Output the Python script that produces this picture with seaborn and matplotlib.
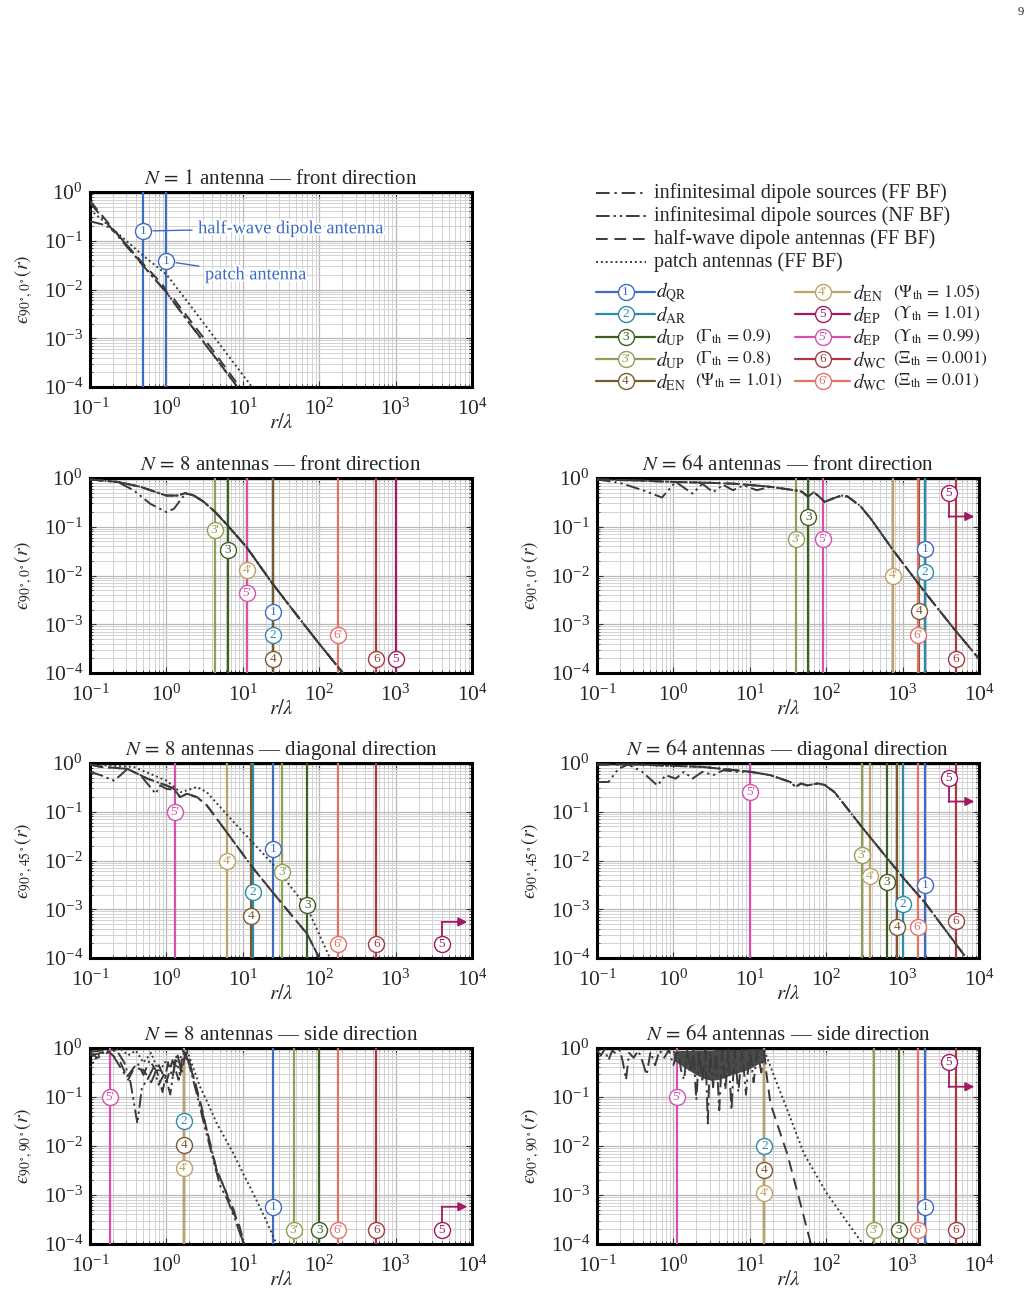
import numpy as np
import matplotlib
matplotlib.use("Agg")
import matplotlib.pyplot as plt
import matplotlib.patheffects as pe
from matplotlib.ticker import LogLocator, NullFormatter
import seaborn as sns

# ---- threshold markers (same order in every panel) ----
thr_keys = ["1", "2", "3", "3'", "4", "4'", "5", "5'", "6", "6'"]
thr_colors = ["#3d6cc4", "#2a8bab", "#3f5f22", "#8fa055", "#7b5b2e",
              "#c0a064", "#a01b63", "#d650ae", "#a83a40", "#e0736a"]
thr_names = [r"$d_{\mathrm{QR}}$", r"$d_{\mathrm{AR}}$", r"$d_{\mathrm{UP}}$", r"$d_{\mathrm{UP}}$",
             r"$d_{\mathrm{EN}}$", r"$d_{\mathrm{EN}}$", r"$d_{\mathrm{EP}}$", r"$d_{\mathrm{EP}}$",
             r"$d_{\mathrm{WC}}$", r"$d_{\mathrm{WC}}$"]
thr_params = ["", "", r"$(\Gamma_{\mathrm{th}}\,=\,0.9)$", r"$(\Gamma_{\mathrm{th}}\,=\,0.8)$",
              r"$(\Psi_{\mathrm{th}}\,=\,1.01)$", r"$(\Psi_{\mathrm{th}}\,=\,1.05)$",
              r"$(\Upsilon_{\mathrm{th}}\,=\,1.01)$", r"$(\Upsilon_{\mathrm{th}}\,=\,0.99)$",
              r"$(\Xi_{\mathrm{th}}\,=\,0.001)$", r"$(\Xi_{\mathrm{th}}\,=\,0.01)$"]

# distances r/lambda of each threshold (None = beyond 1e4, drawn as arrow)
n8f_dist = [24.6, 24.6, 6.4, 4.35, 24.6, 11.3, 1000, 11.3, 560, 177]
n64f_dist = [1960, 1960, 58, 40, 1620, 760, None, 90, 5000, 1580]
n8d_dist = [24.6, 13.4, 70, 33, 12.7, 6.2, None, 1.29, 560, 177]
n64d_dist = [1960, 1000, 620, 295, 850, 380, None, 10.2, 5000, 1580]
n8s_dist = [24.6, 1.68, 100, 47, 1.68, 1.68, None, 0.18, 560, 177]
n64s_dist = [1960, 15.5, 900, 420, 15.5, 15.5, None, 1.1, 5000, 1580]

# log10 height of the circled labels
n8f_lab = [-2.75, -3.23, -1.47, -1.075, -3.71, -1.88, -3.71, -2.36, -3.71, -3.23]
n64f_lab = [-1.45, -1.93, -0.79, -1.25, -2.72, -2.0, -0.30, -1.25, -3.71, -3.23]
n8d_lab = [-1.76, -2.64, -2.92, -2.24, -3.13, -2.01, -3.71, -1.0, -3.71, -3.71]
n64d_lab = [-2.5, -2.9, -2.45, -1.88, -3.37, -2.32, -0.30, -0.6, -3.25, -3.37]
n8s_lab = [-3.24, -1.49, -3.72, -3.72, -1.97, -2.44, -3.72, -1.0, -3.72, -3.72]
n64s_lab = [-3.24, -2.0, -3.72, -3.72, -2.49, -2.96, -0.29, -1.0, -3.72, -3.72]

# arrow for d_EP beyond the plotted range: label x, arrow end x, corner (log10 y)
arrow5_x = 4000
arrow5_end = 8700
n64_arrow_corner = -0.79
n8d_arrow_corner = -3.26
n8s_arrow_corner = -3.24

# N = 1 panel
n1_dist = [0.5, 1.0]
n1_lab = [-0.8, -1.42]
n1_notes = ["half-wave dipole antenna", "patch antenna"]
n1_note_x = [2.6, 3.2]
n1_note_y = [0.18, 0.02]

n1_ff_lx = [-1, -0.65, -0.3, 0, 0.4, 0.93]
n1_ff_ly = [-0.22, -0.88, -1.52, -2.06, -2.9, -4.0]
n1_nf_lx = [-1, -0.8, -0.65, -0.5, -0.3, 0, 0.93]
n1_nf_ly = [-0.6, -0.68, -0.85, -1.12, -1.52, -2.06, -4.0]
n1_hw_lx = [-1, -0.65, -0.3, -0.05, 0.02, 0.1, 0.5, 0.96]
n1_hw_ly = [-0.18, -0.85, -1.48, -1.9, -2.1, -2.2, -3.02, -4.0]
n1_pa_lx = [-1, -0.65, -0.3, 0, 0.3, 0.7, 1.12]
n1_pa_ly = [-0.36, -0.83, -1.31, -1.69, -2.3, -3.13, -4.0]

n8f_ff_lx = [-1, -0.64, -0.34, -0.08, 0.0, 0.14, 0.25, 0.36, 0.49, 0.64, 0.8, 1.05, 1.39, 1.75, 2.0, 2.31]
n8f_ff_ly = [-0.03, -0.08, -0.18, -0.32, -0.36, -0.36, -0.31, -0.36, -0.49, -0.7, -0.97, -1.42, -2.17, -2.9, -3.4, -4.0]
n8f_nf_lx = [-1, -0.64, -0.43, -0.21, 0.0, 0.1, 0.18, 0.25, 0.36, 0.49, 0.64, 0.8, 1.05, 1.39, 1.75, 2.0, 2.31]
n8f_nf_ly = [-0.03, -0.08, -0.25, -0.53, -0.7, -0.63, -0.46, -0.32, -0.36, -0.49, -0.7, -0.97, -1.42, -2.17, -2.9, -3.4, -4.0]

n64f_ff_lx = [-1, -0.5, 0, 0.5, 0.83, 1.27, 1.58, 1.68, 1.76, 1.84, 1.92, 1.98, 2.09, 2.2, 2.28,
              2.45, 2.6, 2.88, 3.29, 3.65, 4.0]
n64f_ff_ly = [-0.03, -0.05, -0.08, -0.1, -0.12, -0.18, -0.25, -0.28, -0.38, -0.29, -0.4, -0.49, -0.42,
              -0.36, -0.38, -0.58, -0.87, -1.49, -2.34, -3.05, -3.71]
n64f_nf_lx = [-1, -0.7, -0.4, -0.15, 0.03, 0.25, 0.38, 0.52, 0.65, 0.78, 0.92, 1.09, 1.27]
n64f_nf_ly = [-0.03, -0.1, -0.25, -0.4, -0.08, -0.32, -0.12, -0.29, -0.14, -0.25, -0.15, -0.25, -0.18]

n8d_ff_lx = [-1, -0.86, -0.51, -0.25, 0.0, 0.1, 0.18, 0.27, 0.4, 0.53, 0.79, 1.126, 1.39, 1.6, 1.84, 2.0]
n8d_ff_ly = [-0.03, -0.08, -0.12, -0.32, -0.46, -0.53, -0.7, -0.63, -0.7, -0.87, -1.42, -2.14, -2.65,
             -3.05, -3.5, -4.0]
n8d_nf_lx = [-1, -0.86, -0.69, -0.6, -0.51, -0.34, -0.14, -0.08, 0.0, 0.1, 0.18, 0.27]
n8d_nf_ly = [-0.18, -0.25, -0.36, -0.25, -0.12, -0.25, -0.63, -0.46, -0.53, -0.55, -0.7, -0.63]
n8d_pa_lx = [-1, -0.43, 0.0, 0.18, 0.27, 0.4, 0.53, 0.88, 1.39, 1.84, 2.14]
n8d_pa_ly = [-0.03, -0.08, -0.36, -0.6, -0.56, -0.49, -0.6, -1.21, -2.07, -2.96, -4.0]

n64d_ff_lx = [-1, -0.5, 0.38, 1.01, 1.27, 1.53, 1.6, 1.67, 1.75, 1.89, 1.98, 2.11, 2.28, 2.47, 3.0,
              3.29, 3.81]
n64d_ff_ly = [-0.03, -0.03, -0.08, -0.18, -0.25, -0.39, -0.49, -0.42, -0.46, -0.42, -0.45, -0.6, -0.94,
              -1.32, -2.34, -2.86, -3.95]
n64d_nf_lx = [-1, -0.85, -0.72, -0.59, -0.41, -0.21, -0.1, 0.03, 0.14, 0.25, 0.38, 0.52, 0.65, 0.83, 1.01]
n64d_nf_ly = [-0.39, -0.39, -0.12, -0.03, -0.18, -0.46, -0.25, -0.32, -0.18, -0.32, -0.18, -0.25, -0.15,
              -0.18, -0.18]

n8s_ff_lx = [-1.0, -0.85, -0.72, -0.62, -0.52, -0.45, -0.38, -0.3, -0.22, -0.12, -0.05, 0.02, 0.08,
             0.14, 0.2, 0.26, 0.33, 0.44, 0.55, 0.66, 0.77, 0.88, 1.01]
n8s_ff_ly = [-0.08, -0.05, -0.1, -0.35, -0.6, -0.45, -0.3, -0.55, -0.25, -0.5, -0.9, -0.3, -0.6,
             -0.1, -0.5, -0.03, -0.45, -1.13, -1.8, -2.5, -2.9, -3.3, -4.0]
n8s_nf_lx = [-1.0, -0.8, -0.65, -0.55, -0.47, -0.38, -0.32, -0.25, -0.17, -0.1, -0.02, 0.05, 0.12,
             0.18, 0.24, 0.3, 0.4, 0.5, 0.6, 0.7, 0.8, 0.9, 1.0]
n8s_nf_ly = [-0.15, -0.08, -0.05, -0.3, -0.7, -1.54, -0.8, -0.65, -0.4, -0.75, -0.5, -0.95, -0.2,
             -0.55, -0.05, -0.35, -0.95, -1.6, -2.2, -2.8, -3.1, -3.5, -3.95]
n8s_hw_lx = [-1.0, -0.9, -0.75, -0.6, -0.5, -0.42, -0.3, -0.2, -0.1, 0.0, 0.08, 0.16, 0.22, 0.28,
             0.36, 0.46, 0.56, 0.66, 0.76, 0.86, 0.95, 1.02]
n8s_hw_ly = [-0.1, -0.2, -0.08, -0.3, -0.65, -0.4, -0.45, -0.7, -0.35, -0.7, -0.25, -0.65, -0.05, -0.3,
             -0.6, -1.2, -1.9, -2.5, -2.85, -3.3, -3.6, -4.0]
n8s_pa_lx = [-1.0, -0.9, -0.75, -0.6, -0.5, -0.4, -0.3, -0.2, -0.1, 0.0, 0.1, 0.2, 0.27, 0.35, 0.44,
             0.55, 0.66, 0.77, 0.88, 1.0, 1.14, 1.3, 1.44]
n8s_pa_ly = [-0.4, -0.15, -0.05, -0.02, -0.15, -0.05, -0.3, -0.1, -0.5, -0.25, -0.45, -0.15, -0.05, -0.4,
             -0.79, -1.15, -1.54, -1.85, -2.16, -2.55, -2.98, -3.5, -4.0]

# N = 64 side: dense oscillation band + spikes, then the two decaying tails
n64s_env_lx = [0.0, 0.1, 0.2, 0.3, 0.4, 0.5, 0.6, 0.7, 0.8, 0.9, 1.0, 1.1, 1.19]
n64s_env_lo = [-0.25, -0.35, -0.45, -0.55, -0.62, -0.66, -0.64, -0.58, -0.52, -0.48, -0.42, -0.33, -0.28]
n64s_env_hi = [-0.06, -0.05, -0.05, -0.04, -0.04, -0.04, -0.03, -0.03, -0.03, -0.03, -0.02, -0.02, -0.02]
n64s_osc_lx = [-1.0, -0.95, -0.9, -0.85, -0.8, -0.75, -0.7, -0.66, -0.62, -0.58, -0.52, -0.46, -0.4,
               -0.35, -0.3, -0.24, -0.18, -0.12, -0.06, 0.0, 0.06, 0.1, 0.14, 0.18, 0.22, 0.26, 0.3,
               0.34, 0.38, 0.42, 0.45, 0.48, 0.52, 0.56, 0.6, 0.64, 0.68, 0.72, 0.76, 0.8, 0.85, 0.9,
               0.95, 1.0, 1.05, 1.1, 1.15, 1.19]
n64s_osc_ly = [-0.05, -0.15, -0.03, -0.25, -0.05, -0.12, -0.04, -0.3, -0.65, -0.1, -0.2, -0.05, -0.3,
               -0.55, -0.08, -0.35, -0.05, -0.2, -0.04, -0.35, -0.03, -0.45, -0.65, -0.05, -0.5, -0.04,
               -1.06, -0.05, -0.7, -0.04, -1.54, -0.05, -0.8, -0.04, -1.27, -0.05, -0.85, -0.04, -1.27,
               -0.05, -0.9, -0.04, -0.95, -0.05, -0.7, -0.04, -0.5, -0.05]
n64s_hw_lx = [1.19, 1.22, 1.27, 1.38, 1.49, 1.65, 1.8]
n64s_hw_ly = [-0.1, -0.55, -1.13, -1.65, -2.16, -3.1, -4.0]
n64s_pa_lx = [1.19, 1.3, 1.5, 1.71, 2.0, 2.25, 2.48]
n64s_pa_ly = [-0.05, -0.5, -1.3, -2.16, -2.95, -3.5, -4.0]

# ---- styles ----
sns.set_theme(style="whitegrid")
plt.rcParams["font.family"] = ["Liberation Serif", "DejaVu Serif"]
plt.rcParams["mathtext.fontset"] = "stix"
plt.rcParams["axes.unicode_minus"] = False

curve_col = "#3a3a3a"
ls_ff = (0, (7, 2.5, 1.2, 2.5))
ls_nf = (0, (7, 2, 1.2, 2, 1.2, 2))
ls_hw = (0, (6, 3.5))
ls_pa = (0, (1, 1.5))

W, H = 1031, 1294
fig = plt.figure(figsize=(W / 100, H / 100), dpi=100)


def add_ax(x0, y0, x1, y1):
    return fig.add_axes([x0 / W, 1 - y1 / H, (x1 - x0) / W, (y1 - y0) / H])


def setup(ax, title, ylab):
    ax.set_xscale("log")
    ax.set_yscale("log")
    ax.set_xlim(1e-1, 1e4)
    ax.set_ylim(1e-4, 1)
    ax.set_xticks([1e-1, 1, 1e1, 1e2, 1e3, 1e4])
    ax.set_yticks([1e-4, 1e-3, 1e-2, 1e-1, 1])
    for axis in (ax.xaxis, ax.yaxis):
        axis.set_minor_locator(LogLocator(base=10, subs=np.arange(2, 10), numticks=20))
        axis.set_minor_formatter(NullFormatter())
    ax.grid(which="major", color="#b8b8b8", lw=0.9)
    ax.grid(which="minor", color="#d2d2d2", lw=0.7)
    ax.set_axisbelow(True)
    ax.tick_params(which="both", direction="in", top=True, right=True, bottom=True, left=True,
                   color="#333333", labelsize=15.5)
    ax.tick_params(axis="x", pad=8)
    ax.tick_params(axis="y", pad=5)
    ax.tick_params(which="major", length=4, width=0.8)
    ax.tick_params(which="minor", length=2, width=0.6)
    for s in ax.spines.values():
        s.set_linewidth(2.2)
        s.set_color("black")
    ax.set_facecolor("white")
    ax.set_title(title, fontsize=15, pad=6)
    ax.set_xlabel(r"$r/\lambda$", fontsize=15, labelpad=-4)
    ax.set_ylabel(ylab, fontsize=14, labelpad=6)


def curve(ax, lx, ly, ls):
    sns.lineplot(x=np.power(10.0, lx), y=np.power(10.0, ly), ax=ax, color=curve_col, lw=1.4,
                 linestyle=ls, estimator=None, sort=False, zorder=4)


def circ(ax, x, y, key, col):
    ax.plot([x], [y], marker="o", ms=11.5, mfc="white", mec=col, mew=1.0, zorder=6, clip_on=False)
    ax.text(x, y, key, color=col, ha="center", va="center", fontsize=9.5, zorder=7)


def thresholds(ax, dist, lab, corner=None):
    for key, col, d, ly in zip(thr_keys, thr_colors, dist, lab):
        if d is not None:
            ax.axvline(d, color=col, lw=1.6, zorder=3)
            circ(ax, d, 10 ** ly, key, col)
        else:
            ax.plot([arrow5_x, arrow5_x], [10 ** ly, 10 ** corner], color=col, lw=1.3, zorder=5)
            ax.annotate("", xy=(arrow5_end, 10 ** corner), xytext=(arrow5_x, 10 ** corner),
                        arrowprops=dict(arrowstyle="-|>", color=col, lw=1.3, mutation_scale=13,
                                        shrinkA=0, shrinkB=0), zorder=5)
            circ(ax, arrow5_x, 10 ** ly, key, col)


ylab_front = "$\u03f5_{90^\\circ\\!,0^\\circ}(r)$"
ylab_diag = "$\u03f5_{90^\\circ\\!,45^\\circ}(r)$"
ylab_side = "$\u03f5_{90^\\circ\\!,90^\\circ}(r)$"

LX = (90, 472)
RX = (597, 979)
rows = [(192, 387), (478, 673), (763, 958), (1048, 1244)]

# N = 1, front
ax = add_ax(LX[0], rows[0][0], LX[1], rows[0][1])
setup(ax, r"$N\,{=}\,1$ antenna — front direction", ylab_front)
curve(ax, n1_ff_lx, n1_ff_ly, ls_ff)
curve(ax, n1_nf_lx, n1_nf_ly, ls_nf)
curve(ax, n1_hw_lx, n1_hw_ly, ls_hw)
curve(ax, n1_pa_lx, n1_pa_ly, ls_pa)
for d, ly, note, nx, ny in zip(n1_dist, n1_lab, n1_notes, n1_note_x, n1_note_y):
    ax.axvline(d, color=thr_colors[0], lw=1.6, zorder=3)
    ax.annotate(note, xy=(d, 10 ** ly), xytext=(nx, ny), color=thr_colors[0], fontsize=13.2,
                va="center", ha="left", zorder=7,
                path_effects=[pe.withStroke(linewidth=3, foreground="white")],
                arrowprops=dict(arrowstyle="-", color=thr_colors[0], lw=1.0, shrinkA=2, shrinkB=7))
    circ(ax, d, 10 ** ly, "1", thr_colors[0])

# N = 8 / 64, front
ax = add_ax(LX[0], rows[1][0], LX[1], rows[1][1])
setup(ax, r"$N\,{=}\,8$ antennas — front direction", ylab_front)
thresholds(ax, n8f_dist, n8f_lab)
curve(ax, n8f_ff_lx, n8f_ff_ly, ls_ff)
curve(ax, n8f_nf_lx, n8f_nf_ly, ls_nf)
curve(ax, n8f_ff_lx, n8f_ff_ly, ls_hw)
curve(ax, n8f_ff_lx, n8f_ff_ly, ls_pa)

ax = add_ax(RX[0], rows[1][0], RX[1], rows[1][1])
setup(ax, r"$N\,{=}\,64$ antennas — front direction", ylab_front)
thresholds(ax, n64f_dist, n64f_lab, n64_arrow_corner)
curve(ax, n64f_ff_lx, n64f_ff_ly, ls_ff)
curve(ax, n64f_nf_lx, n64f_nf_ly, ls_nf)
curve(ax, n64f_ff_lx, n64f_ff_ly, ls_hw)
curve(ax, n64f_ff_lx, n64f_ff_ly, ls_pa)

# diagonal
ax = add_ax(LX[0], rows[2][0], LX[1], rows[2][1])
setup(ax, r"$N\,{=}\,8$ antennas — diagonal direction", ylab_diag)
thresholds(ax, n8d_dist, n8d_lab, n8d_arrow_corner)
curve(ax, n8d_ff_lx, n8d_ff_ly, ls_ff)
curve(ax, n8d_nf_lx, n8d_nf_ly, ls_nf)
curve(ax, n8d_ff_lx, n8d_ff_ly, ls_hw)
curve(ax, n8d_pa_lx, n8d_pa_ly, ls_pa)

ax = add_ax(RX[0], rows[2][0], RX[1], rows[2][1])
setup(ax, r"$N\,{=}\,64$ antennas — diagonal direction", ylab_diag)
thresholds(ax, n64d_dist, n64d_lab, n64_arrow_corner)
curve(ax, n64d_ff_lx, n64d_ff_ly, ls_ff)
curve(ax, n64d_nf_lx, n64d_nf_ly, ls_nf)
curve(ax, n64d_ff_lx, n64d_ff_ly, ls_hw)
curve(ax, n64d_ff_lx, n64d_ff_ly, ls_pa)

# side
ax = add_ax(LX[0], rows[3][0], LX[1], rows[3][1])
setup(ax, r"$N\,{=}\,8$ antennas — side direction", ylab_side)
thresholds(ax, n8s_dist, n8s_lab, n8s_arrow_corner)
curve(ax, n8s_ff_lx, n8s_ff_ly, ls_ff)
curve(ax, n8s_nf_lx, n8s_nf_ly, ls_nf)
curve(ax, n8s_hw_lx, n8s_hw_ly, ls_hw)
curve(ax, n8s_pa_lx, n8s_pa_ly, ls_pa)

ax = add_ax(RX[0], rows[3][0], RX[1], rows[3][1])
setup(ax, r"$N\,{=}\,64$ antennas — side direction", ylab_side)
thresholds(ax, n64s_dist, n64s_lab, n64_arrow_corner)
ax.fill_between(np.power(10.0, n64s_env_lx), np.power(10.0, n64s_env_lo), np.power(10.0, n64s_env_hi),
                color="#4a4a4a", lw=0, zorder=4)
curve(ax, n64s_osc_lx, n64s_osc_ly, ls_ff)
curve(ax, n64s_hw_lx, n64s_hw_ly, ls_hw)
curve(ax, n64s_pa_lx, n64s_pa_ly, ls_pa)

# ---- legend, drawn in figure pixels ----
lg = fig.add_axes([0, 0, 1, 1])
lg.set_xlim(0, W)
lg.set_ylim(H, 0)
lg.axis("off")

style_lbls = ["infinitesimal dipole sources (FF BF)", "infinitesimal dipole sources (NF BF)",
              "half-wave dipole antennas (FF BF)", "patch antennas (FF BF)"]
style_ls = [ls_ff, ls_nf, ls_hw, ls_pa]
for i, (lbl, ls) in enumerate(zip(style_lbls, style_ls)):
    y = 193 + 23 * i
    lg.plot([596, 646], [y, y], color=curve_col, lw=1.4, linestyle=ls)
    lg.text(654, y, lbl, fontsize=14.5, va="center", ha="left")

for i, (key, col, name, par) in enumerate(zip(thr_keys, thr_colors, thr_names, thr_params)):
    row_i = i if i < 5 else i - 5
    hx0, hx1, tx, px = (596, 655, 656, 695) if i < 5 else (795, 850, 853, 893)
    y = 292 + 22.3 * row_i
    lg.plot([hx0, hx1], [y, y], color=col, lw=1.6)
    lg.plot([(hx0 + hx1) / 2], [y], marker="o", ms=11.5, mfc="white", mec=col, mew=1.0)
    lg.text((hx0 + hx1) / 2, y, key, color=col, ha="center", va="center", fontsize=9.5)
    lg.text(tx, y + 1, name, fontsize=14, va="center", ha="left")
    if par:
        lg.text(px, y, par, fontsize=12.5, va="center", ha="left")

lg.text(1021, 12, "9", fontsize=9, ha="center", va="center")

fig.savefig("out.png", dpi=100)
